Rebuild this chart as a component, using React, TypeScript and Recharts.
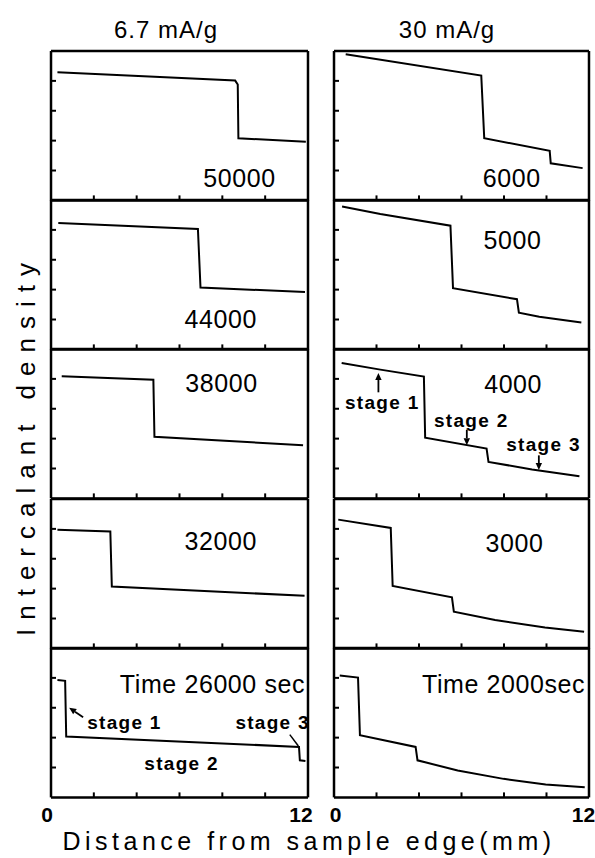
import React from 'react';
import { LineChart, Line, XAxis, YAxis, ReferenceLine, ReferenceDot } from 'recharts';

const FONT = '"Liberation Sans", Arial, sans-serif';

// ---- data: [distance (mm), intercalant density (arb.)] ----
const left50000 = [[0.3, 4.29], [8.6, 4.01], [8.72, 3.88], [8.75, 2.08], [11.9, 1.96]];
const left44000 = [[0.34, 4.23], [6.86, 4.03], [6.98, 2.07], [11.86, 1.92]];
const left38000 = [[0.5, 4.09], [4.78, 3.97], [4.83, 2.06], [11.77, 1.78]];
const left32000 = [[0.3, 3.97], [2.77, 3.91], [2.84, 2.07], [11.84, 1.76]];
const left26000 = [[0.3, 3.93], [0.66, 3.9], [0.71, 2.04], [11.58, 1.69], [11.62, 1.24], [11.88, 1.22]];

const right6000 = [[0.55, 4.89], [6.93, 4.18], [7.07, 2.08], [10.15, 1.66], [10.2, 1.24], [11.7, 1.08]];
const right5000 = [[0.38, 4.78], [2.18, 4.53], [5.48, 4.14], [5.6, 2.05], [8.61, 1.68], [8.7, 1.23], [9.66, 1.09], [11.64, 0.9]];
const right4000 = [[0.36, 4.53], [2.18, 4.31], [4.23, 4.08], [4.29, 2.03], [7.18, 1.67], [7.27, 1.22], [9.32, 0.97], [11.55, 0.74]];
const right3000 = [[0.2, 4.31], [2.67, 4.03], [2.76, 2.09], [5.55, 1.71], [5.64, 1.23], [7.58, 0.95], [9.93, 0.7], [11.77, 0.56]];
const right2000 = [[0.27, 4.08], [1.13, 4.01], [1.22, 2.08], [3.84, 1.69], [3.93, 1.24], [5.82, 0.9], [7.98, 0.62], [9.96, 0.43], [11.8, 0.34]];

const xDomain = [0, 12];
const yDomain = [0, 5];
const xTicks = [2, 4, 6, 8, 10];
const yTicks = [1, 2, 3, 4];
const xEndLabels = ['0', '12'];
const columnTitles = ['6.7 mA/g', '30 mA/g'];

// time labels: [text, x, y]
const timeLabels: [string, number, number][][] = [
  [['50000', 8.8, 0.76]],
  [['44000', 7.93, 1.0]],
  [['38000', 7.96, 3.86]],
  [['32000', 7.93, 3.58]],
  [['Time 26000 sec', 7.54, 3.8]],
  [['6000', 8.36, 0.76]],
  [['5000', 8.4, 3.66]],
  [['4000', 8.43, 3.83]],
  [['3000', 8.49, 3.52]],
  [['Time 2000sec', 7.98, 3.8]],
];

// stage annotations: [text, x, y]
const stageLabels4000: [string, number, number][] = [
  ['stage 1', 2.27, 3.22],
  ['stage 2', 6.46, 2.61],
  ['stage 3', 9.86, 1.81],
];
const stageArrows4000 = [
  [2.09, 3.55, 2.09, 4.2],
  [6.25, 2.3, 6.25, 1.78],
  [9.64, 1.44, 9.64, 0.95],
];
const stageLabels26000: [string, number, number][] = [
  ['stage 1', 3.43, 2.53],
  ['stage 2', 6.1, 1.15],
  ['stage 3', 10.35, 2.53],
];
const stageArrows26000 = [[1.5, 2.68, 0.85, 3.0]];
const stageLeaders26000 = [[11.15, 2.1, 11.55, 1.72]];

const series = [left50000, left44000, left38000, left32000, left26000, right6000, right5000, right4000, right3000, right2000];

// ---- layout ----
const M = 3;
const COLS = [
  { x: 51, w: 257 },
  { x: 333.5, w: 255 },
];
const TOP = 50.5;
const ROW_H = 149.4;
const TICK_PX = 5;

const ArrowShape = (props: any) => {
  const { x1, y1, x2, y2 } = props;
  const a = Math.atan2(y2 - y1, x2 - x1);
  const L = 7;
  const W = 3.2;
  const bx = x2 - L * Math.cos(a);
  const by = y2 - L * Math.sin(a);
  const px = -Math.sin(a) * W;
  const py = Math.cos(a) * W;
  return (
    <g>
      <line x1={x1} y1={y1} x2={bx} y2={by} stroke="#000" strokeWidth={1.8} />
      <polygon points={`${x2},${y2} ${bx + px},${by + py} ${bx - px},${by - py}`} fill="#000" />
    </g>
  );
};

const LeaderShape = (props: any) => {
  const { x1, y1, x2, y2 } = props;
  return <line x1={x1} y1={y1} x2={x2} y2={y2} stroke="#000" strokeWidth={1.5} />;
};

function Panel({ idx }: { idx: number }) {
  const col = idx < 5 ? 0 : 1;
  const row = idx % 5;
  const { x, w } = COLS[col];
  const top = TOP + row * ROW_H;
  const data = series[idx].map(([dx, dy]) => ({ x: dx, y: dy }));
  const labels = timeLabels[idx];
  const stageL = idx === 7 ? stageLabels4000 : idx === 4 ? stageLabels26000 : [];
  const arrows = idx === 7 ? stageArrows4000 : idx === 4 ? stageArrows26000 : [];
  const leaders = idx === 4 ? stageLeaders26000 : [];
  const xTickLen = (TICK_PX / ROW_H) * (yDomain[1] - yDomain[0]);
  const yTickLen = (TICK_PX / w) * (xDomain[1] - xDomain[0]);
  const frame = { stroke: '#000', strokeWidth: 2.5 };
  return (
    <div style={{ position: 'absolute', left: x - M, top: top - M }}>
      <LineChart width={w + 2 * M} height={ROW_H + 2 * M} data={data} margin={{ top: M, right: M, bottom: M, left: M }}>
        <XAxis type="number" dataKey="x" domain={xDomain} allowDataOverflow hide />
        <YAxis type="number" domain={yDomain} allowDataOverflow hide />
        <ReferenceLine y={yDomain[0]} {...frame} />
        <ReferenceLine y={yDomain[1]} {...frame} />
        <ReferenceLine x={xDomain[0]} {...frame} />
        <ReferenceLine x={xDomain[1]} {...frame} />
        {xTicks.map((t) => (
          <ReferenceLine
            key={'xt' + t}
            segment={[{ x: t, y: yDomain[0] }, { x: t, y: yDomain[0] + xTickLen }]}
            stroke="#000"
            strokeWidth={2}
          />
        ))}
        {yTicks.map((t) => (
          <ReferenceLine
            key={'yt' + t}
            segment={[{ x: xDomain[0], y: t }, { x: xDomain[0] + yTickLen, y: t }]}
            stroke="#000"
            strokeWidth={2}
          />
        ))}
        <Line
          dataKey="y"
          type="linear"
          stroke="#000"
          strokeWidth={2}
          dot={false}
          isAnimationActive={false}
        />
        {labels.map(([t, lx, ly], i) => (
          <ReferenceDot
            key={'t' + i}
            x={lx}
            y={ly}
            r={0}
            fill="none"
            stroke="none"
            label={{ value: t, position: 'center', fill: '#000', fontSize: 25, fontFamily: FONT, letterSpacing: 0.6 }}
          />
        ))}
        {stageL.map(([t, lx, ly], i) => (
          <ReferenceDot
            key={'s' + i}
            x={lx}
            y={ly}
            r={0}
            fill="none"
            stroke="none"
            label={{ value: t, position: 'center', fill: '#000', fontSize: 19, fontWeight: 'bold', fontFamily: FONT, letterSpacing: 1.3 }}
          />
        ))}
        {arrows.map(([ax1, ay1, ax2, ay2], i) => (
          <ReferenceLine
            key={'a' + i}
            segment={[{ x: ax1, y: ay1 }, { x: ax2, y: ay2 }]}
            shape={ArrowShape}
          />
        ))}
        {leaders.map(([ax1, ay1, ax2, ay2], i) => (
          <ReferenceLine
            key={'l' + i}
            segment={[{ x: ax1, y: ay1 }, { x: ax2, y: ay2 }]}
            shape={LeaderShape}
          />
        ))}
      </LineChart>
    </div>
  );
}

const textStyle = (cx: number, cy: number, size: number, extra: any = {}) => ({
  position: 'absolute' as const,
  left: cx,
  top: cy,
  transform: 'translate(-50%, -50%)',
  fontFamily: FONT,
  fontSize: size,
  lineHeight: 1,
  whiteSpace: 'nowrap' as const,
  color: '#000',
  ...extra,
});

export default function App() {
  const bottom = TOP + 5 * ROW_H;
  return (
    <div style={{ position: 'absolute', left: 0, top: 0, width: 595, height: 858, background: '#fff', overflow: 'hidden' }}>
      <div style={textStyle(166, 30, 24, { letterSpacing: 1 })}>{columnTitles[0]}</div>
      <div style={textStyle(447, 30, 24, { letterSpacing: 1 })}>{columnTitles[1]}</div>
      {series.map((_, i) => (
        <Panel key={i} idx={i} />
      ))}
      <div style={textStyle(COLS[0].x - 4, bottom + 16, 21, { fontWeight: 'bold' })}>{xEndLabels[0]}</div>
      <div style={textStyle(COLS[0].x + COLS[0].w - 7, bottom + 16, 21, { fontWeight: 'bold' })}>{xEndLabels[1]}</div>
      <div style={textStyle(COLS[1].x + 2, bottom + 16, 21, { fontWeight: 'bold' })}>{xEndLabels[0]}</div>
      <div style={textStyle(COLS[1].x + COLS[1].w - 5, bottom + 16, 21, { fontWeight: 'bold' })}>{xEndLabels[1]}</div>
      <div style={textStyle(309, 841, 25, { letterSpacing: 4.5 })}>Distance from sample edge(mm)</div>
      <div style={textStyle(26, 445, 26, { letterSpacing: 9, transform: 'translate(-50%, -50%) rotate(-90deg)' })}>
        Intercalant density
      </div>
    </div>
  );
}
